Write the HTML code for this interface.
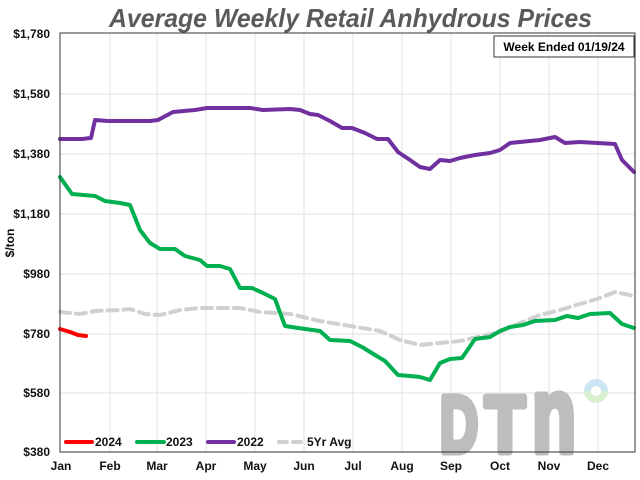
<!DOCTYPE html>
<html><head><meta charset="utf-8"><style>body{margin:0;background:#fff}svg{display:block}</style></head><body>
<svg width="640" height="480" xmlns="http://www.w3.org/2000/svg" font-family="Liberation Sans, sans-serif">
<rect width="640" height="480" fill="#fff"/>
<text x="109" y="27" font-size="26" font-weight="bold" font-style="italic" fill="#5a5a5a" textLength="483" lengthAdjust="spacingAndGlyphs">Average Weekly Retail Anhydrous Prices</text>
<g stroke="#e0e0e0" stroke-width="1">
<line x1="60" x2="635" y1="94" y2="94"/><line x1="60" x2="635" y1="154" y2="154"/><line x1="60" x2="635" y1="214" y2="214"/><line x1="60" x2="635" y1="274" y2="274"/><line x1="60" x2="635" y1="334" y2="334"/><line x1="60" x2="635" y1="393" y2="393"/>
<line x1="110" x2="110" y1="33" y2="452"/><line x1="157" x2="157" y1="33" y2="452"/><line x1="206" x2="206" y1="33" y2="452"/><line x1="255" x2="255" y1="33" y2="452"/><line x1="304" x2="304" y1="33" y2="452"/><line x1="353" x2="353" y1="33" y2="452"/><line x1="402" x2="402" y1="33" y2="452"/><line x1="451" x2="451" y1="33" y2="452"/><line x1="500" x2="500" y1="33" y2="452"/><line x1="549" x2="549" y1="33" y2="452"/><line x1="598" x2="598" y1="33" y2="452"/>
</g>
<g font-weight="bold" fill="#bdbdbd" stroke="#bdbdbd" stroke-width="7" stroke-linejoin="round">
<text x="440" y="452" font-size="80" textLength="38" lengthAdjust="spacingAndGlyphs">D</text>
<text x="485" y="452" font-size="80" textLength="40" lengthAdjust="spacingAndGlyphs">T</text>
<text x="532" y="452" font-size="108" textLength="44" lengthAdjust="spacingAndGlyphs">n</text>
</g>
<path d="M584 391 a12 12 0 0 1 24 0 z" fill="#cde6f4"/><path d="M584 391 a12 12 0 0 0 24 0 z" fill="#d9f0d3"/><circle cx="596" cy="391" r="5" fill="#fff"/>
<g fill="none" stroke-linejoin="round" stroke-linecap="round">
<polyline stroke="#d0d0d0" stroke-width="4" stroke-dasharray="10,6" points="60,312 80,314 95,311 120,310 130,309 145,314 160,315 180,310 200,308 240,308 260,312 290,314 320,321 350,326 380,331 400,340 420,345 440,343 460,341 500,332 520,323 540,315 560,310 580,304 600,298 615,292 634,296"/>
<polyline stroke="#00b050" stroke-width="4" points="60,177 72,194 95,196 105,201 120,203 130,205 140,230 150,243 160,249 175,249 185,256 200,260 207,266 220,266 230,269 240,288 252,288 263,293 275,299 285,326 298,328 320,331 330,340 350,341 362,347 375,355 385,361 398,375 410,376 420,377 430,380 440,363 450,359 462,358 475,339 490,337 500,331 510,327 523,325 535,321 555,320 567,316 578,318 590,314 610,313 622,324 634,328"/>
<polyline stroke="#7030a0" stroke-width="4" points="60,139 82,139 91,138 95,120 108,121 130,121 150,121 158,120 173,112 195,110 207,108 250,108 263,110 290,109 300,110 310,114 318,115 330,121 342,128 352,128 365,133 377,139 388,139 398,152 410,160 420,167 430,169 440,160 450,161 460,158 475,155 490,153 500,150 510,143 540,140 555,137 565,143 580,142 615,144 622,160 634,172"/>
<polyline stroke="#ff0000" stroke-width="4" points="60,329 70,332 78,335 86,336"/>
</g>
<rect x="60" y="33" width="575" height="419" fill="none" stroke="#333" stroke-width="1"/>
<rect x="494" y="36" width="140" height="21" fill="#fff" stroke="#333"/>
<text x="564" y="51" text-anchor="middle" font-size="12" font-weight="bold" fill="#000">Week Ended 01/19/24</text>
<g font-size="12" font-weight="bold" fill="#111" text-anchor="end">
<text x="50" y="38">$1,780</text><text x="50" y="98">$1,580</text><text x="50" y="158">$1,380</text><text x="50" y="218">$1,180</text><text x="50" y="278">$980</text><text x="50" y="338">$780</text><text x="50" y="397">$580</text><text x="50" y="456">$380</text>
</g>
<text x="14" y="243" font-size="12" font-weight="bold" fill="#111" transform="rotate(-90 14 243)" text-anchor="middle">$/ton</text>
<g font-size="12" font-weight="bold" fill="#111" text-anchor="middle">
<text x="61" y="470">Jan</text><text x="110" y="470">Feb</text><text x="157" y="470">Mar</text><text x="206" y="470">Apr</text><text x="255" y="470">May</text><text x="304" y="470">Jun</text><text x="353" y="470">Jul</text><text x="402" y="470">Aug</text><text x="451" y="470">Sep</text><text x="500" y="470">Oct</text><text x="549" y="470">Nov</text><text x="598" y="470">Dec</text>
</g>
<g stroke-width="4" stroke-linecap="round">
<line x1="66" x2="92" y1="442" y2="442" stroke="#ff0000"/>
<line x1="137" x2="164" y1="442" y2="442" stroke="#00b050"/>
<line x1="208" x2="234" y1="442" y2="442" stroke="#7030a0"/>
<line x1="279" x2="304" y1="442" y2="442" stroke="#d0d0d0" stroke-dasharray="8,6"/>
</g>
<g font-size="12" font-weight="bold" fill="#111">
<text x="95" y="446">2024</text><text x="166" y="446">2023</text><text x="237" y="446">2022</text><text x="307" y="446">5Yr Avg</text>
</g>
</svg>
</body></html>
